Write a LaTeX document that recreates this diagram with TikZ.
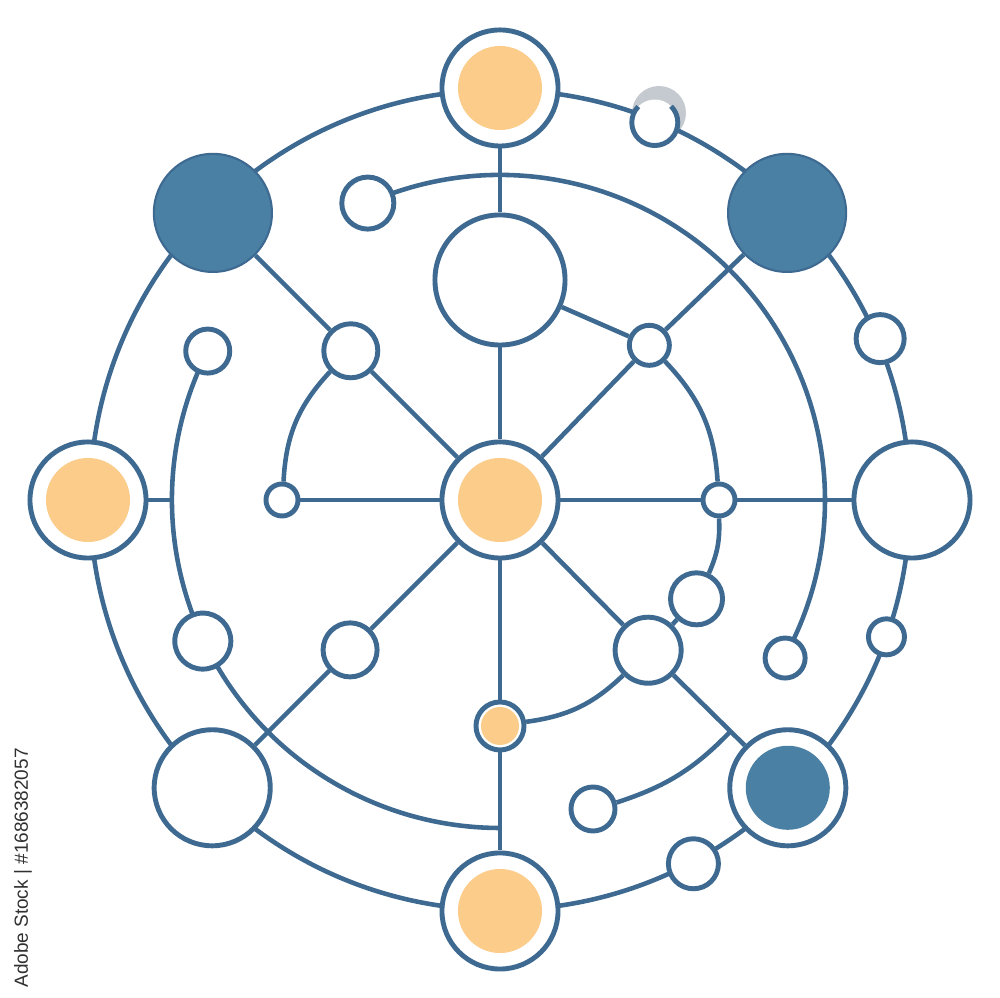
\documentclass[tikz,border=0pt]{standalone}
\usepackage{fontspec}
\usepackage{color}
\usepackage{tikz}
\usetikzlibrary{calc,backgrounds}
\newfontfamily\stockfont{Liberation Sans}
\definecolor{netline}{RGB}{62,106,146}
\definecolor{netdark}{RGB}{74,128,164}
\definecolor{netorange}{RGB}{252,204,138}
\definecolor{smudge}{RGB}{196,202,208}
\definecolor{stockgrey}{RGB}{48,48,48}

\begin{document}
\begin{tikzpicture}[x=0.01cm,y=0.01cm]
	\tikzset{
		wire/.style={draw=netline,line width=1.3pt},
		hole/.style={circle,draw=netline,fill=white,line width=1.4pt,inner sep=0pt,minimum size=#1},
		core/.style 2 args={hole=#1,path picture={\fill[netorange] (path picture bounding box.center) circle[radius=#2];}},
		darkcore/.style={hole=1.16cm,path picture={\fill[netdark] (path picture bounding box.center) circle[radius=0.42cm];}},
		disc/.style={circle,draw=netline,fill=netdark,line width=0.6pt,inner sep=0pt,minimum size=1.18cm}
	}
	\useasboundingbox (-500,-498) rectangle (500,500);

	% big nodes
	\node[core={1.16cm}{0.42cm}] (ctr) at (0,0) {};
	\node[core={1.16cm}{0.42cm}] (top) at (90:412) {};
	\node[core={1.16cm}{0.42cm}] (lft) at (180:412) {};
	\node[core={1.16cm}{0.42cm}] (bot) at (270:411) {};
	\node[hole=1.16cm] (rgt) at (0:412) {};
	\node[disc] (tl) at (135:406) {};
	\node[disc] (tr) at (45:406) {};
	\node[hole=1.16cm] (bl) at (225:407) {};
	\node[darkcore] (br) at (315:407) {};
	\node[hole=1.3cm] (hub) at (90:220) {};

	% small nodes
	\node[hole=0.52cm] (a) at (114:325) {};
	\node[hole=0.44cm] (b) at (153:328) {};
	\node[hole=0.54cm] (c) at (135:211) {};
	\node[hole=0.40cm] (d) at (46:215) {};
	\node[hole=0.48cm] (e) at (23:413) {};
	\node[hole=0.46cm,draw=none] (f) at (67.7:408) {};
	\node[hole=0.32cm] (g) at (180:218) {};
	\node[hole=0.32cm] (h) at (0:219) {};
	\node[hole=0.52cm] (i) at (-26.7:220) {};
	\node[hole=0.56cm] (j) at (205.4:329) {};
	\node[hole=0.54cm] (k) at (225:212) {};
	\node[hole=0.66cm] (l) at (-45.4:211) {};
	\node[hole=0.40cm] (m) at (-29:326) {};
	\node[hole=0.36cm] (n) at (-19.5:410) {};
	\node[core={0.48cm}{0.19cm}] (o) at (270:226) {};
	\node[hole=0.44cm] (p) at (93,-309) {};
	\node[hole=0.50cm] (q) at (-62:412) {};
	% f is half hidden under a grey smudge
	\draw[netline,line width=1.4pt] (f.center) ++(136:23) arc[start angle=136,end angle=405,radius=23];

	\begin{scope}[on background layer]
		\fill[smudge] (159,387) circle[radius=27];
		% rings
		\draw[wire] (ctr) circle[radius=410];
		\draw[wire] (a.center) arc[start angle=114,end angle=-29,radius=325];
		\draw[wire] (b.center) arc[start angle=153,end angle=270,radius=328];
		\coordinate (lin) at (180:328);
		\coordinate (pl) at ($(l)!0.59!(br)$);
		\draw[wire] (lft) -- (lin);
		\draw[wire] (c) to[bend right=20] (g);
		\draw[wire] (d) to[bend left=20] (h);
		\draw[wire] (h) to[bend left=13] (i);
		\draw[wire] (o) to[bend right=18] (l);
		\draw[wire] (p) to[bend right=14] (pl);
		% spokes
		\draw[wire] (top) -- (hub) -- (ctr) -- (o) -- (bot);
		\draw[wire] (tl) -- (c) -- (ctr);
		\draw[wire] (tr) -- (d) -- (ctr);
		\draw[wire] (hub) -- (d);
		\draw[wire] (g) -- (ctr) -- (h) -- (rgt);
		\draw[wire] (ctr) -- (k) -- (bl);
		\draw[wire] (ctr) -- (l) -- (br);
		\draw[wire] (i) -- (l);
	\end{scope}

	\node[rotate=90,text=stockgrey,font=\stockfont\fontsize{5.4}{6}\selectfont,inner sep=0pt] (stock) at (-477,-368) {Adobe Stock | \#1686382057};
\end{tikzpicture}
\end{document}
